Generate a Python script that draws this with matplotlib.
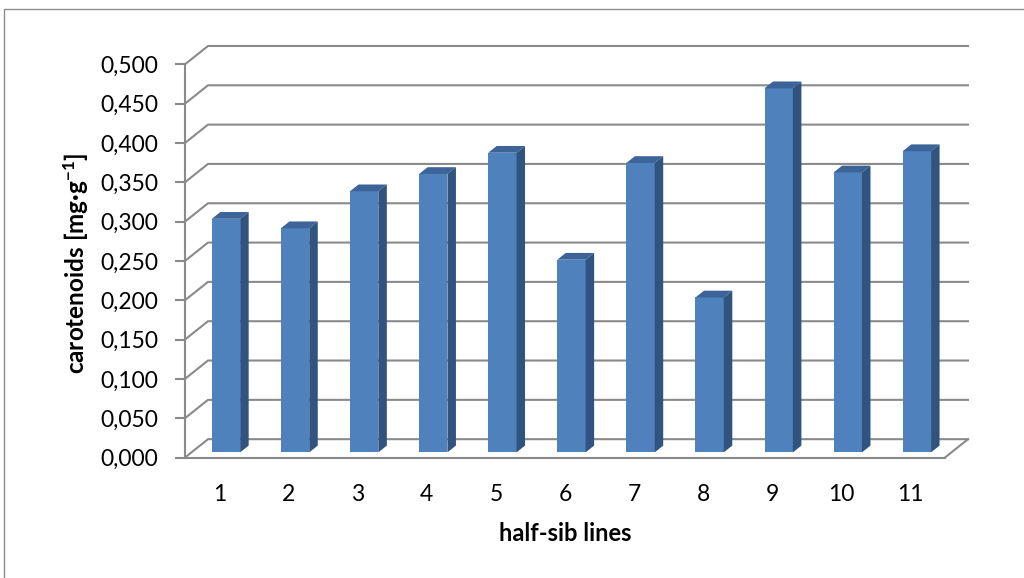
import matplotlib
matplotlib.use("Agg")
from matplotlib import pyplot as plt
from matplotlib.patches import Polygon, Rectangle

plt.rcParams["font.family"] = ["Lato", "DejaVu Sans"]
plt.rcParams["mathtext.fontset"] = "custom"
plt.rcParams["mathtext.bf"] = "Lato:bold"
plt.rcParams["mathtext.rm"] = "Lato:bold"
plt.rcParams["mathtext.default"] = "bf"

# data
lines = ["1", "2", "3", "4", "5", "6", "7", "8", "9", "10", "11"]
carotenoids = [0.297, 0.285, 0.332, 0.354, 0.381, 0.245, 0.368, 0.197, 0.463, 0.356, 0.383]
yticks = [0.0, 0.05, 0.1, 0.15, 0.2, 0.25, 0.3, 0.35, 0.4, 0.45, 0.5]

# fake 3d look: depth of the floor and bar placement inside it
dx, dy = 0.333, 0.0233      # depth offset in data units
b0, bd = 0.28, 0.37         # bar front position / bar depth, as share of depth
width = 0.41
front, top, side = "#4f81bd", "#3c6499", "#30537f"
grid = "#8a8a8a"

fig = plt.figure(figsize=(10.24, 5.78), dpi=100)
ax = fig.add_axes([185 / 1024, (578 - 457.5) / 578, 760 / 1024, 393.2 / 578])
ax.set_xlim(0, len(lines))
ax.set_ylim(0, 0.5)

# back wall grid + floor
n = len(lines)
for v in yticks:
    ax.plot([0, dx, n + dx], [v, v + dy, v + dy], color=grid, lw=1.5,
            clip_on=False, zorder=1, solid_joinstyle="miter")
ax.plot([n, n + dx], [0, dy], color=grid, lw=1.5, clip_on=False, zorder=1)

# bars
for i, v in enumerate(carotenoids):
    xl = i + 0.5 - width / 2 + b0 * dx
    xr = xl + width
    yb = b0 * dy
    ox, oy = bd * dx, bd * dy
    ax.add_patch(Polygon([(xl, yb), (xr, yb), (xr, yb + v), (xl, yb + v)],
                         closed=True, fc=front, ec="none", zorder=3, clip_on=False))
    ax.add_patch(Polygon([(xl, yb + v), (xr, yb + v), (xr + ox, yb + v + oy), (xl + ox, yb + v + oy)],
                         closed=True, fc=top, ec="none", zorder=3, clip_on=False))
    ax.add_patch(Polygon([(xr, yb), (xr, yb + v), (xr + ox, yb + v + oy), (xr + ox, yb + oy)],
                         closed=True, fc=side, ec="none", zorder=3, clip_on=False))

for s in ["top", "right"]:
    ax.spines[s].set_visible(False)
for s in ["left", "bottom"]:
    ax.spines[s].set_color(grid)
    ax.spines[s].set_linewidth(1.5)
    ax.spines[s].set_zorder(2)

ax.set_yticks(yticks)
ax.set_yticklabels(["{:.3f}".format(t).replace(".", ",") for t in yticks])
ax.tick_params(axis="y", length=7, width=1.5, color=grid, pad=12, labelsize=16.5)
ax.set_xticks([i + 0.5 for i in range(n)])
ax.set_xticklabels(lines)
ax.tick_params(axis="x", length=0, pad=19, labelsize=16.5)
ax.patch.set_visible(False)

ax.set_xlabel("half-sib lines", fontsize=17, fontweight="bold", labelpad=12)
ax.set_ylabel("carotenoids [mg·g$^{-1}$]", fontsize=17.5, fontweight="bold", va="center")
ax.yaxis.set_label_coords(-0.143, 0.495)

fig.add_artist(Rectangle((4 / 1024, -0.1), 1.2, (578 - 9) / 578 + 0.1,
                         transform=fig.transFigure, fill=False, ec="#8c8c8c", lw=1))

plt.savefig("out.png", dpi=100)
